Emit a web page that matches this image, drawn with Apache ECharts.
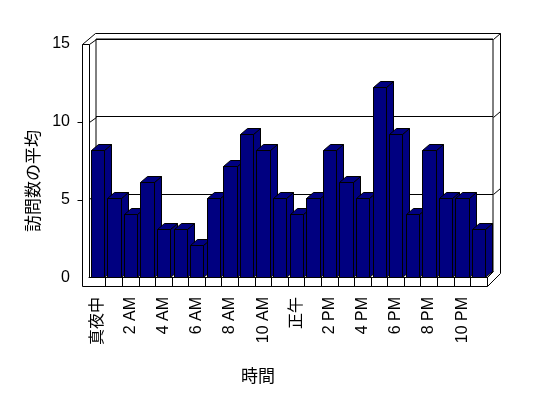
<!DOCTYPE html>
<html>
<head>
<meta charset="utf-8">
<script src="https://cdn.jsdelivr.net/npm/echarts@6/dist/echarts.min.js"></script>
<style>
  html, body { margin: 0; padding: 0; background: #fff; }
  #main { width: 548px; height: 398px; }
</style>
</head>
<body>
<div id="main"></div>
<script>
// 时间（类目）
const hours = [
  "真夜中", "1 AM", "2 AM", "3 AM", "4 AM", "5 AM", "6 AM", "7 AM", "8 AM", "9 AM", "10 AM", "11 AM",
  "正午", "1 PM", "2 PM", "3 PM", "4 PM", "5 PM", "6 PM", "7 PM", "8 PM", "9 PM", "10 PM", "11 PM"
];
// 訪問数の平均
const visits = [8, 5, 4, 6, 3, 3, 2, 5, 7, 9, 8, 5, 4, 5, 8, 6, 5, 12, 9, 4, 8, 5, 5, 3];
const yTicks = [0, 5, 10, 15];

const FONT = "'Liberation Sans', 'Noto Sans CJK JP', sans-serif";
const CJK = "'Noto Sans CJK JP', sans-serif";
const NAVY = "#000080";
const DX = 7, DY = -6; // 柱子的纵深偏移

// 1px 线条对齐像素
const px = function (v) { return Math.round(v) + 0.5; };

// 3D 柱子：正面 + 顶面 + 侧面
function renderBar(params, api) {
  const base = api.coord([api.value(0), 0]);
  const top = api.coord([api.value(0), api.value(1)]);
  const bw = api.size([1, 0])[0] * 0.8;
  const x0 = px(base[0] - bw / 2), x1 = px(base[0] + bw / 2);
  const y0 = px(base[1]), y1 = px(top[1]);
  const style = { fill: NAVY, stroke: "#000", lineWidth: 1 };
  return {
    type: "group",
    children: [
      { type: "polygon", shape: { points: [[x1, y0], [x1 + DX, y0 + DY], [x1 + DX, y1 + DY], [x1, y1]] }, style: style },
      { type: "polygon", shape: { points: [[x0, y1], [x0 + DX, y1 + DY], [x1 + DX, y1 + DY], [x1, y1]] }, style: style },
      { type: "rect", shape: { x: x0, y: y1, width: x1 - x0, height: y0 - y1 }, style: style }
    ]
  };
}

// 墙面与地板的轮廓线
const wallLines = [
  [[82, 286], [82, 44], [95, 33], [500, 33], [500, 273], [487, 286], [82, 286]],
  [[82, 44], [89, 44], [96, 39]],
  [[89, 44], [89, 277]],
  [[493, 39], [500, 33]],
  [[487, 277], [493, 271]],
  [[487, 277], [487, 286]],
  [[89, 122], [96, 117]],
  [[89, 199], [96, 194]],
  [[493, 117], [500, 111]],
  [[493, 194], [500, 188]],
  [[77, 122], [82, 122]],
  [[77, 200], [82, 200]]
];

const graphics = wallLines.map(function (pts) {
  return {
    type: "polyline",
    z: 1,
    shape: { points: pts.map(function (p) { return [p[0] + 0.5, p[1] + 0.5]; }) },
    style: { stroke: "#000", lineWidth: 1, fill: null }
  };
});
graphics.push({
  type: "text", x: 258, y: 376, z: 10,
  style: { text: "時間", font: "17px " + CJK, fill: "#000", align: "center", verticalAlign: "middle" }
});
graphics.push({
  type: "text", x: 33, y: 181, rotation: Math.PI / 2, z: 10,
  style: { text: "訪問数の平均", font: "17px " + CJK, fill: "#000", align: "center", verticalAlign: "middle" }
});

const chart = echarts.init(document.getElementById("main"), null, { renderer: "canvas" });
chart.setOption({
  backgroundColor: "#fff",
  animation: false,
  grid: [
    { left: 89, width: 398, top: 39, height: 238 },   // 柱子
    { left: 82, width: 7, top: 44, height: 234 },     // 左侧刻度
    { left: 96, width: 397, top: 39, height: 233, show: true, borderColor: "#000", borderWidth: 1, backgroundColor: "transparent" } // 后墙
  ],
  xAxis: [
    {
      gridIndex: 0, type: "category", data: hours,
      axisLine: { show: true, lineStyle: { color: "#000", width: 1 } },
      axisTick: {
        show: true, length: 9, lineStyle: { color: "#000" },
        interval: function (i) { return i > 0; }
      },
      axisLabel: {
        interval: 1, rotate: 90, margin: 20, color: "#000",
        fontSize: 16, fontFamily: FONT
      },
      splitLine: { show: false }
    },
    { gridIndex: 1, type: "value", show: false },
    { gridIndex: 2, type: "value", show: false }
  ],
  yAxis: [
    { gridIndex: 0, type: "value", min: 0, max: 15, show: false },
    {
      gridIndex: 1, type: "value", min: 0, max: 15, interval: 5,
      axisLine: { show: false },
      axisTick: { show: false },
      axisLabel: {
        margin: 12, color: "#000", fontSize: 16, fontFamily: FONT,
        formatter: function (v) { return yTicks.indexOf(v) >= 0 ? String(v) : ""; }
      },
      splitLine: { show: false }
    },
    {
      gridIndex: 2, type: "value", min: 0, max: 15, interval: 5,
      axisLine: { show: false }, axisTick: { show: false }, axisLabel: { show: false },
      splitLine: { show: true, lineStyle: { color: "#000", width: 1 } }
    }
  ],
  graphic: graphics,
  series: [
    {
      type: "custom",
      xAxisIndex: 0,
      yAxisIndex: 0,
      z: 5,
      renderItem: renderBar,
      encode: { x: 0, y: 1 },
      data: visits.map(function (v, i) { return [i, v]; })
    }
  ]
});
</script>
</body>
</html>
